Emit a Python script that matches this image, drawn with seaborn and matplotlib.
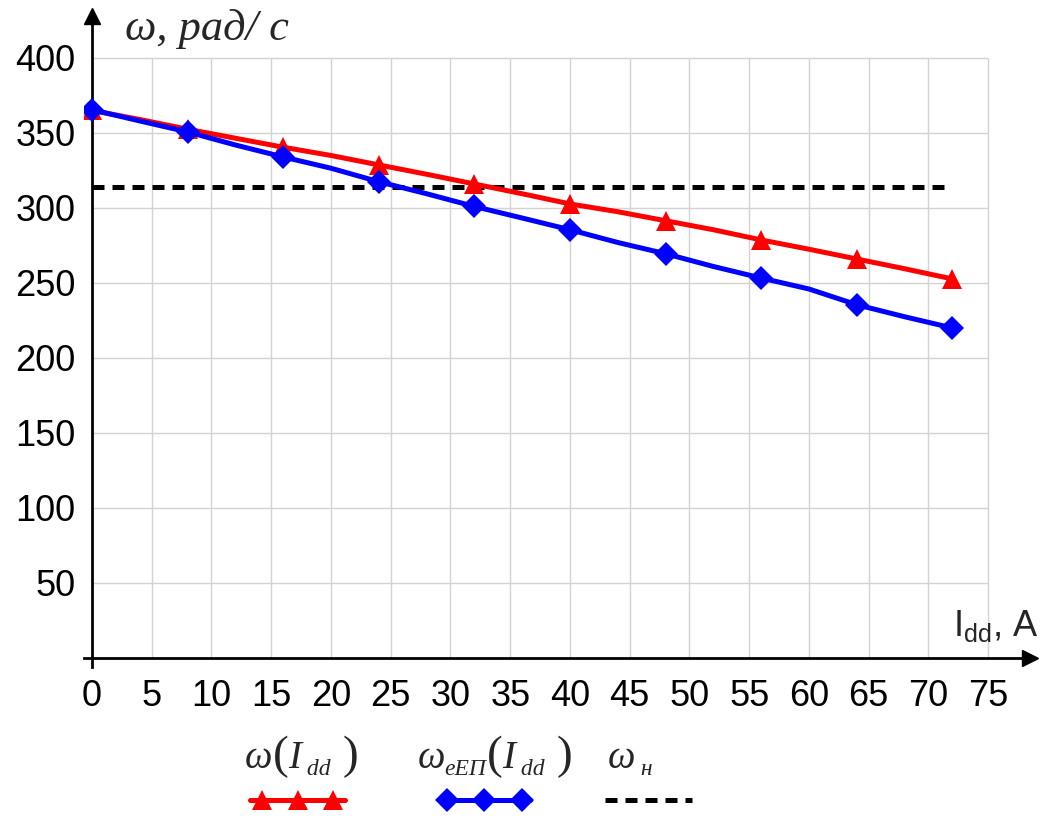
import numpy as np
import pandas as pd
import matplotlib
matplotlib.use("Agg")
import matplotlib.pyplot as plt
from matplotlib.lines import Line2D
import seaborn as sns

# Armature current, A
current = [0, 4, 8, 12, 16, 20, 24, 28, 32, 36, 40, 44, 48, 52, 56, 60, 64, 68, 72]
# Speed of the motor, rad/s
omega = [365, 359, 352.5, 346.5, 340.5, 335, 328.7, 322.5, 316, 309.5, 302.7,
         297.5, 291.5, 285.5, 278.7, 272.5, 266, 259.5, 252.7]
# Speed of the equivalent electric drive, rad/s
omega_eep = [365.5, 358, 350.7, 342, 334, 326.5, 317.5, 309.5, 301, 293.3, 285.5,
             277, 269.5, 261, 253.3, 246, 235.5, 227.5, 220]
# Nominal speed, rad/s
omega_nom = 314
x_ticks = [0, 5, 10, 15, 20, 25, 30, 35, 40, 45, 50, 55, 60, 65, 70, 75]
y_ticks = [50, 100, 150, 200, 250, 300, 350, 400]

sns.set_style("white")
plt.rcParams["font.family"] = ["Liberation Sans", "DejaVu Sans"]
plt.rcParams["mathtext.fontset"] = "custom"
plt.rcParams["mathtext.rm"] = "Liberation Serif"
plt.rcParams["mathtext.it"] = "Liberation Serif:italic"
plt.rcParams["mathtext.sf"] = "Liberation Sans"

df = pd.DataFrame({"I": current, "w": omega, "w_eep": omega_eep})

W, H = 1052, 819
fig = plt.figure(figsize=(W / 100, H / 100), dpi=100)
ax = fig.add_axes([0.0795, 0.1856, 0.8996, 0.7949])
ax.set_xlim(-0.7, 78.5)
ax.set_ylim(-6, 428)

# grid limited to the labelled range
grid_kw = dict(color="#d3d3d3", lw=1.0, zorder=0)
ax.hlines(y_ticks, 0, x_ticks[-1], **grid_kw)
ax.vlines(x_ticks[1:], 0, y_ticks[-1], **grid_kw)

red = "#ff0000"
blue = "#0000ff"
sns.lineplot(data=df, x="I", y="w", ax=ax, color=red, lw=3.6, marker="^",
             markersize=15, markeredgewidth=0, markevery=2, zorder=4)
sns.lineplot(data=df, x="I", y="w_eep", ax=ax, color=blue, lw=3.6, marker="D",
             markersize=12, markeredgewidth=0, markevery=2, zorder=5)
ax.plot([current[0], current[-1]], [omega_nom, omega_nom], color="black", lw=3.6,
        dashes=(2.4, 1.6), dash_capstyle="butt", zorder=3)

# axes with arrows through the origin
for side in ["top", "right"]:
    ax.spines[side].set_visible(False)
ax.spines["left"].set_position(("data", 0))
ax.spines["bottom"].set_position(("data", 0))
for side in ["left", "bottom"]:
    ax.spines[side].set_linewidth(2.0)
    ax.spines[side].set_color("black")
ax.plot(1, 0, ">k", ms=12, transform=ax.get_yaxis_transform(), clip_on=False)
ax.plot(0, 1, "^k", ms=12, transform=ax.get_xaxis_transform(), clip_on=False)

ax.set_xticks(x_ticks)
ax.set_yticks(y_ticks)
ax.tick_params(axis="both", direction="inout", length=16, width=1.8, color="black",
               labelsize=26, labelcolor="black")
ax.tick_params(axis="x", pad=7)
ax.tick_params(axis="y", pad=4)
ax.set_xlabel("")
ax.set_ylabel("")

# axis titles
fig.text(125 / W, 1 - 40 / H, "ω, рад/ с", fontsize=32, family="Liberation Serif",
         style="italic", va="baseline", ha="left")
fig.text(953 / W, 1 - 636 / H, r"$\mathsf{I_{dd}}$, A", fontsize=26,
         va="baseline", ha="left")

renderer = fig.canvas.get_renderer()


def formula(cx, base_y, pieces):
    """Lay out (text, fontsize, dy_px, style) pieces left to right, centred on cx."""
    arts, widths = [], []
    for s, size, dy, style in pieces:
        t = fig.text(0, 0, s, fontsize=size, family="Liberation Serif", style=style,
                     va="baseline", ha="left")
        widths.append(t.get_window_extent(renderer).width)
        arts.append((t, dy))
    x = cx - sum(widths) / 2
    for (t, dy), w in zip(arts, widths):
        t.set_position((x / W, (base_y + dy) / H))
        x += w


lab_base = H - 768
formula(302, lab_base, [("ω", 28, 0, "italic"), ("(", 34, 0, "normal"),
                        ("I", 28, 0, "italic"), (" dd", 17, -7, "italic"),
                        (" )", 34, 0, "normal")])
formula(495, lab_base, [("ω", 28, 0, "italic"), ("eЕП", 17, -7, "italic"),
                        ("(", 34, 0, "normal"), ("I", 28, 0, "italic"),
                        (" dd", 17, -7, "italic"), (" )", 34, 0, "normal")])
formula(630, lab_base, [("ω", 28, 0, "italic"), (" н", 17, -7, "italic")])

# legend sample lines
leg_y = 1 - 800 / H
fig.add_artist(Line2D([250 / W, 345 / W], [leg_y, leg_y], color=red, lw=3.6,
                      transform=fig.transFigure))
fig.add_artist(Line2D([262 / W, 298 / W, 333 / W], [leg_y] * 3, ls="none",
                      marker="^", ms=15, mew=0, color=red, transform=fig.transFigure))
fig.add_artist(Line2D([440 / W, 530 / W], [leg_y, leg_y], color=blue, lw=3.6,
                      transform=fig.transFigure))
fig.add_artist(Line2D([447 / W, 484 / W, 522 / W], [leg_y] * 3, ls="none",
                      marker="D", ms=12, mew=0, color=blue, transform=fig.transFigure))
fig.add_artist(Line2D([605 / W, 692 / W], [leg_y, leg_y], color="black", lw=3.6,
                      dashes=(2.4, 1.6), transform=fig.transFigure))

fig.savefig("out.png", dpi=100)
